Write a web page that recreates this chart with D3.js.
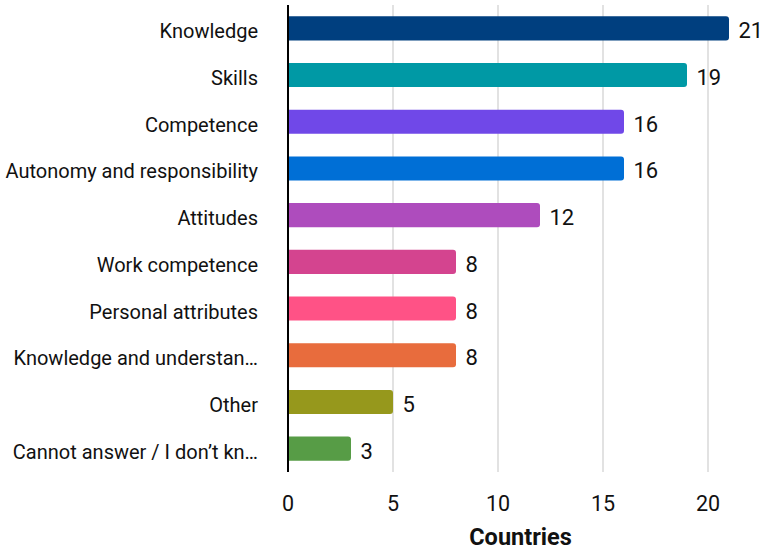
<!DOCTYPE html>
<html>
<head>
<meta charset="utf-8">
<script src="https://cdn.jsdelivr.net/npm/d3@7"></script>
<style>
  html, body { margin: 0; padding: 0; background: #fff; }
  text { font-family: Roboto, "Noto Sans", sans-serif; }
</style>
</head>
<body>
<svg id="chart" width="763" height="554"></svg>
<script>
// Response categories, number of countries and bar colours
const categories = [
  "Knowledge",
  "Skills",
  "Competence",
  "Autonomy and responsibility",
  "Attitudes",
  "Work competence",
  "Personal attributes",
  "Knowledge and understan…",
  "Other",
  "Cannot answer / I don’t kn…"
];
const countries = [21, 19, 16, 16, 12, 8, 8, 8, 5, 3];
const colors = [
  "#003f7f", "#0099a5", "#7048e8", "#006fd6", "#ae4cbd",
  "#d4448f", "#ff5286", "#e86c3d", "#96981c", "#579c46"
];
const xTicks = [0, 5, 10, 15, 20];
const xTitle = "Countries";

const svg = d3.select("#chart");
const width = 763, height = 554;
const plotTop = 5, plotBottom = 472;

const x = d3.scaleLinear().domain([0, 21]).range([288, 288 + 441]);
const y = d3.scaleBand()
  .domain(categories)
  .range([plotTop, plotBottom])
  .paddingInner(0.485)
  .paddingOuter(0.2425);

// vertical grid lines
svg.append("g")
  .selectAll("line")
  .data(xTicks.slice(1))
  .join("line")
  .attr("x1", d => x(d)).attr("x2", d => x(d))
  .attr("y1", plotTop).attr("y2", plotBottom)
  .attr("stroke", "#e2e2e2")
  .attr("stroke-width", 2);

// bars with rounded right end
const r = 3;
function barPath(x0, x1, y0, h) {
  const w = x1 - x0;
  const rr = Math.min(r, w / 2, h / 2);
  return `M${x0},${y0}H${x1 - rr}Q${x1},${y0} ${x1},${y0 + rr}` +
         `V${y0 + h - rr}Q${x1},${y0 + h} ${x1 - rr},${y0 + h}H${x0}Z`;
}
const data = categories.map((c, i) => ({ c, v: countries[i], col: colors[i] }));

svg.append("g")
  .selectAll("path")
  .data(data)
  .join("path")
  .attr("d", d => barPath(x(0), x(d.v), y(d.c), y.bandwidth()))
  .attr("fill", d => d.col);

// value labels
svg.append("g")
  .selectAll("text")
  .data(data)
  .join("text")
  .attr("x", d => x(d.v) + 9.5)
  .attr("y", d => y(d.c) + y.bandwidth() / 2 + 10)
  .attr("font-size", 22)
  .attr("fill", "#111")
  .text(d => d.v);

// category labels
svg.append("g")
  .selectAll("text")
  .data(data)
  .join("text")
  .attr("x", 258)
  .attr("y", d => y(d.c) + y.bandwidth() / 2 + 10)
  .attr("text-anchor", "end")
  .attr("font-size", 20)
  .attr("fill", "#111")
  .text(d => d.c);

// x-axis tick labels
svg.append("g")
  .selectAll("text")
  .data(xTicks)
  .join("text")
  .attr("x", d => x(d))
  .attr("y", 511)
  .attr("text-anchor", "middle")
  .attr("font-size", 21.5)
  .attr("fill", "#111")
  .text(d => d);

// baseline
svg.append("line")
  .attr("x1", x(0)).attr("x2", x(0))
  .attr("y1", plotTop).attr("y2", plotBottom)
  .attr("stroke", "#000")
  .attr("stroke-width", 2);

// axis title
svg.append("text")
  .attr("x", 520.5)
  .attr("y", 545)
  .attr("text-anchor", "middle")
  .attr("font-size", 23.5)
  .attr("font-weight", "bold")
  .attr("fill", "#111")
  .text(xTitle);
</script>
</body>
</html>
